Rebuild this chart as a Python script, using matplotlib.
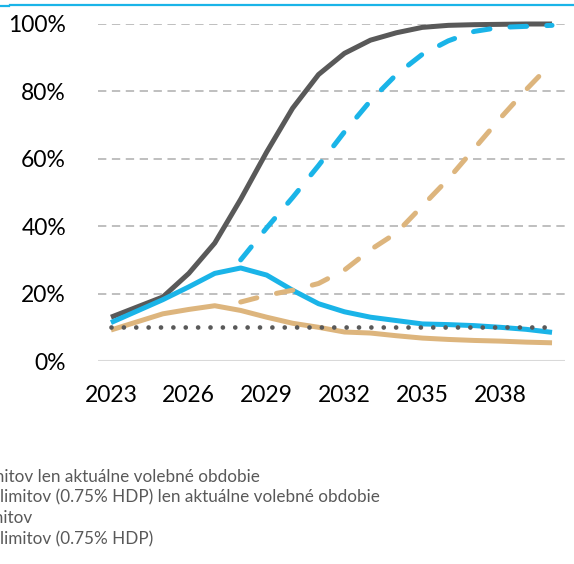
import matplotlib.pyplot as plt
from matplotlib.lines import Line2D
from matplotlib.ticker import FuncFormatter

plt.rcParams['font.family'] = ['Lato', 'DejaVu Sans']
plt.rcParams['lines.scale_dashes'] = False

years = list(range(2023, 2041))

# solid dark grey
grey_solid = [13, 16, 19, 26, 35, 48, 62, 75, 85, 91.3, 95.2, 97.4, 99, 99.6, 99.8, 99.9, 100, 100]
# solid blue
blue_solid = [11.4, 14.8, 18.2, 22, 26, 27.6, 25.5, 21, 17, 14.6, 13, 12, 11, 10.8, 10.5, 10, 9.4, 8.5]
# solid tan
tan_solid = [9.2, 11.6, 14, 15.3, 16.4, 15, 13, 11.2, 10, 8.6, 8.3, 7.5, 6.8, 6.4, 6.1, 5.9, 5.6, 5.4]
# dashed blue (from 2028)
blue_dash_years = list(range(2028, 2041))
blue_dash = [30, 39.5, 48.5, 58, 68, 77.2, 85, 91, 95, 97.8, 99, 99.3, 99.6]
# dashed tan (from 2028)
tan_dash_years = list(range(2028, 2041))
tan_dash = [17.5, 19.5, 21, 23, 27, 33, 38, 46, 54, 63, 72, 80.5, 88.5]
# dotted reference
dotted = [10] * len(years)

legend_lines = [
    'limitov len aktuálne volebné obdobie',
    'limitov (0.75% HDP) len aktuálne volebné obdobie',
    'limitov',
    'limitov (0.75% HDP)',
]

GREY = '#595959'
BLUE = '#1AB4E8'
TAN = '#DDB57D'

fig = plt.figure(figsize=(5.74, 5.64), dpi=100)
ax = fig.add_axes([98 / 574, 1 - 361 / 564, (565 - 98) / 574, (361 - 24) / 564])

idx = {y: i for i, y in enumerate(years)}
x_all = [idx[y] for y in years]

ax.plot(x_all, grey_solid, color=GREY, lw=3.6, solid_capstyle='butt', zorder=3, clip_on=False)
ax.plot(x_all, tan_solid, color=TAN, lw=3.6, solid_capstyle='butt', zorder=4, clip_on=False)
ax.plot(x_all, blue_solid, color=BLUE, lw=3.6, solid_capstyle='butt', zorder=5, clip_on=False)
ax.plot([idx[y] for y in tan_dash_years], tan_dash, color=TAN, lw=3.6,
        dashes=(12, 14.5), dash_capstyle='round', zorder=6, clip_on=False)
ax.plot([idx[y] for y in blue_dash_years], blue_dash, color=BLUE, lw=3.6,
        dashes=(12, 14.5), dash_capstyle='round', zorder=7, clip_on=False)
ax.plot(x_all, dotted, color=GREY, lw=3.4, dashes=(0.01, 8.9),
        dash_capstyle='round', zorder=8, clip_on=False)

ax.set_xlim(-0.5, len(years) - 0.5)
ax.set_ylim(0, 100)
ax.set_yticks([0, 20, 40, 60, 80, 100])
ax.yaxis.set_major_formatter(FuncFormatter(lambda v, p: f'{v:.0f}%'))
ax.set_xticks([idx[y] for y in years[::3]])
ax.set_xticklabels([str(y) for y in years[::3]])

for v in [20, 40, 60, 80, 100]:
    ax.axhline(v, color='#BFBFBF', lw=1.4, dashes=(6, 4), zorder=1)
ax.axhline(0, color='#D9D9D9', lw=1.5, zorder=1)

for s in ax.spines.values():
    s.set_visible(False)
ax.tick_params(axis='both', length=0, labelsize=16.5, colors='#000000')
ax.tick_params(axis='y', pad=23)
ax.tick_params(axis='x', pad=17)

# top border line from the original layout
fig.add_artist(Line2D([10 / 574, 1], [1 - 4.8 / 564, 1 - 4.8 / 564], color=BLUE, lw=1.6))
fig.add_artist(Line2D([0, 9 / 574], [1 - 5.8 / 564, 1 - 5.8 / 564], color=BLUE, lw=1.6))

# legend text (cut off at the left edge)
ys = [477, 497, 518, 539]
xs = [-18, 0, -18, 0]
for t, y, x in zip(legend_lines, ys, xs):
    fig.text(x / 574, 1 - y / 564, t, color=GREY, fontsize=12.35, va='center', ha='left')

fig.savefig('out.png', dpi=100)
